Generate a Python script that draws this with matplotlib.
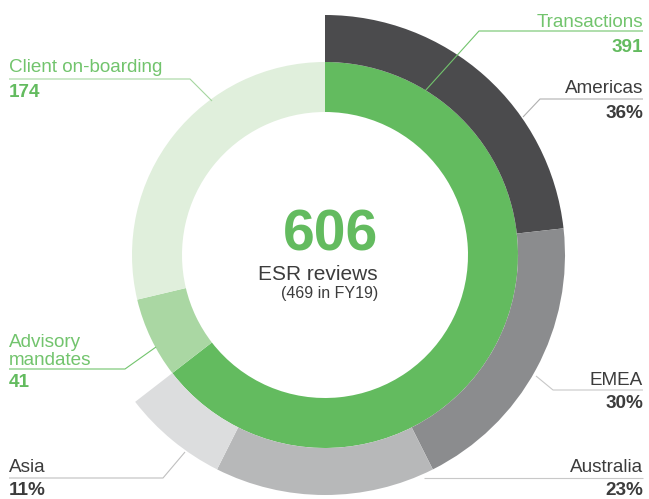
import matplotlib
matplotlib.use("Agg")
import matplotlib.pyplot as plt

# ESR reviews by type (inner ring)
types = ["Transactions", "Advisory\nmandates", "Client on-boarding"]
type_counts = [391, 41, 174]
total = 606
fy19 = 469

# regional split of transactions (outer ring), percent
regions = ["Americas", "EMEA", "Australia", "Asia"]
region_pct = [36, 30, 23, 11]

green = "#63bb5f"
green_lbl = "#72c46d"
inner_cols = [green, "#aad7a3", "#e0efdc"]
outer_cols = ["#4b4b4d", "#8b8c8e", "#b7b8b9", "#dcddde"]
grey_txt = "#3c3c3c"

W, H = 649, 499
plt.rcParams["font.family"] = ["Liberation Sans", "DejaVu Sans"]
fig = plt.figure(figsize=(W / 100, H / 100), dpi=100)
ax = fig.add_axes([0, 0, 1, 1])

cx, cy = 325, H - 255

# inner ring
ax.pie(type_counts, radius=193, center=(cx, cy), startangle=90,
       counterclock=False, colors=inner_cols,
       wedgeprops=dict(width=50, linewidth=0))

# outer ring only spans the transactions share
tr = type_counts[0]
outer_vals = [p / 100 * tr for p in region_pct] + [total - tr]
ax.pie(outer_vals, radius=240, center=(cx, cy), startangle=90,
       counterclock=False, colors=outer_cols + ["none"],
       wedgeprops=dict(width=47, linewidth=0))

ax.set_xlim(0, W)
ax.set_ylim(0, H)
ax.set_aspect("equal")
ax.axis("off")


def Y(p):
    return H - p


def leader(pts, col):
    xs = [p[0] for p in pts]
    ys = [Y(p[1]) for p in pts]
    ax.plot(xs, ys, color=col, lw=0.8, solid_capstyle="butt")


fs = 13.6
lab = dict(fontsize=fs, va="baseline")
num = dict(fontsize=fs, va="baseline", fontweight="bold")

# green labels (inner ring)
ax.text(643, Y(27), types[0], color=green_lbl, ha="right", **lab)
ax.text(643, Y(52), str(type_counts[0]), color=green, ha="right", **num)
leader([(643, 31), (479, 31), (425, 91)], green_lbl)

ax.text(9, Y(72), types[2], color=green_lbl, ha="left", **lab)
ax.text(9, Y(97), str(type_counts[2]), color=green, ha="left", **num)
leader([(9, 79), (190, 79), (212, 101)], "#a6d6a0")

ax.text(9, Y(365), types[1], color=green_lbl, ha="left", linespacing=1.1,
        fontsize=fs, va="baseline")
ax.text(9, Y(387), str(type_counts[1]), color=green, ha="left", **num)
leader([(9, 369), (125, 369), (156, 347)], green_lbl)

# grey labels (outer ring)
ax.text(643, Y(93), regions[0], color=grey_txt, ha="right", **lab)
ax.text(643, Y(118), f"{region_pct[0]}%", color=grey_txt, ha="right", **num)
leader([(643, 99), (540, 99), (523, 117)], "#b0b0b0")

ax.text(643, Y(385), regions[1], color=grey_txt, ha="right", **lab)
ax.text(643, Y(408), f"{region_pct[1]}%", color=grey_txt, ha="right", **num)
leader([(643, 390), (553, 390), (536, 376)], "#c8c8c8")

ax.text(643, Y(472), regions[2], color=grey_txt, ha="right", **lab)
ax.text(643, Y(495), f"{region_pct[2]}%", color=grey_txt, ha="right", **num)
leader([(643, 478), (424, 478)], "#c8c8c8")

ax.text(9, Y(472), regions[3], color=grey_txt, ha="left", **lab)
ax.text(9, Y(495), f"{region_pct[3]}%", color=grey_txt, ha="left", **num)
leader([(9, 478), (163, 478), (185, 452)], "#c0c0c0")

# centre
ax.text(378, Y(250), str(total), color=green, ha="right", va="baseline",
        fontsize=41, fontweight="bold")
ax.text(378, Y(280), "ESR reviews", color=grey_txt, ha="right",
        va="baseline", fontsize=15)
ax.text(378, Y(298), f"({fy19} in FY19)", color=grey_txt, ha="right",
        va="baseline", fontsize=11.5)

fig.savefig("out.png", dpi=100)
